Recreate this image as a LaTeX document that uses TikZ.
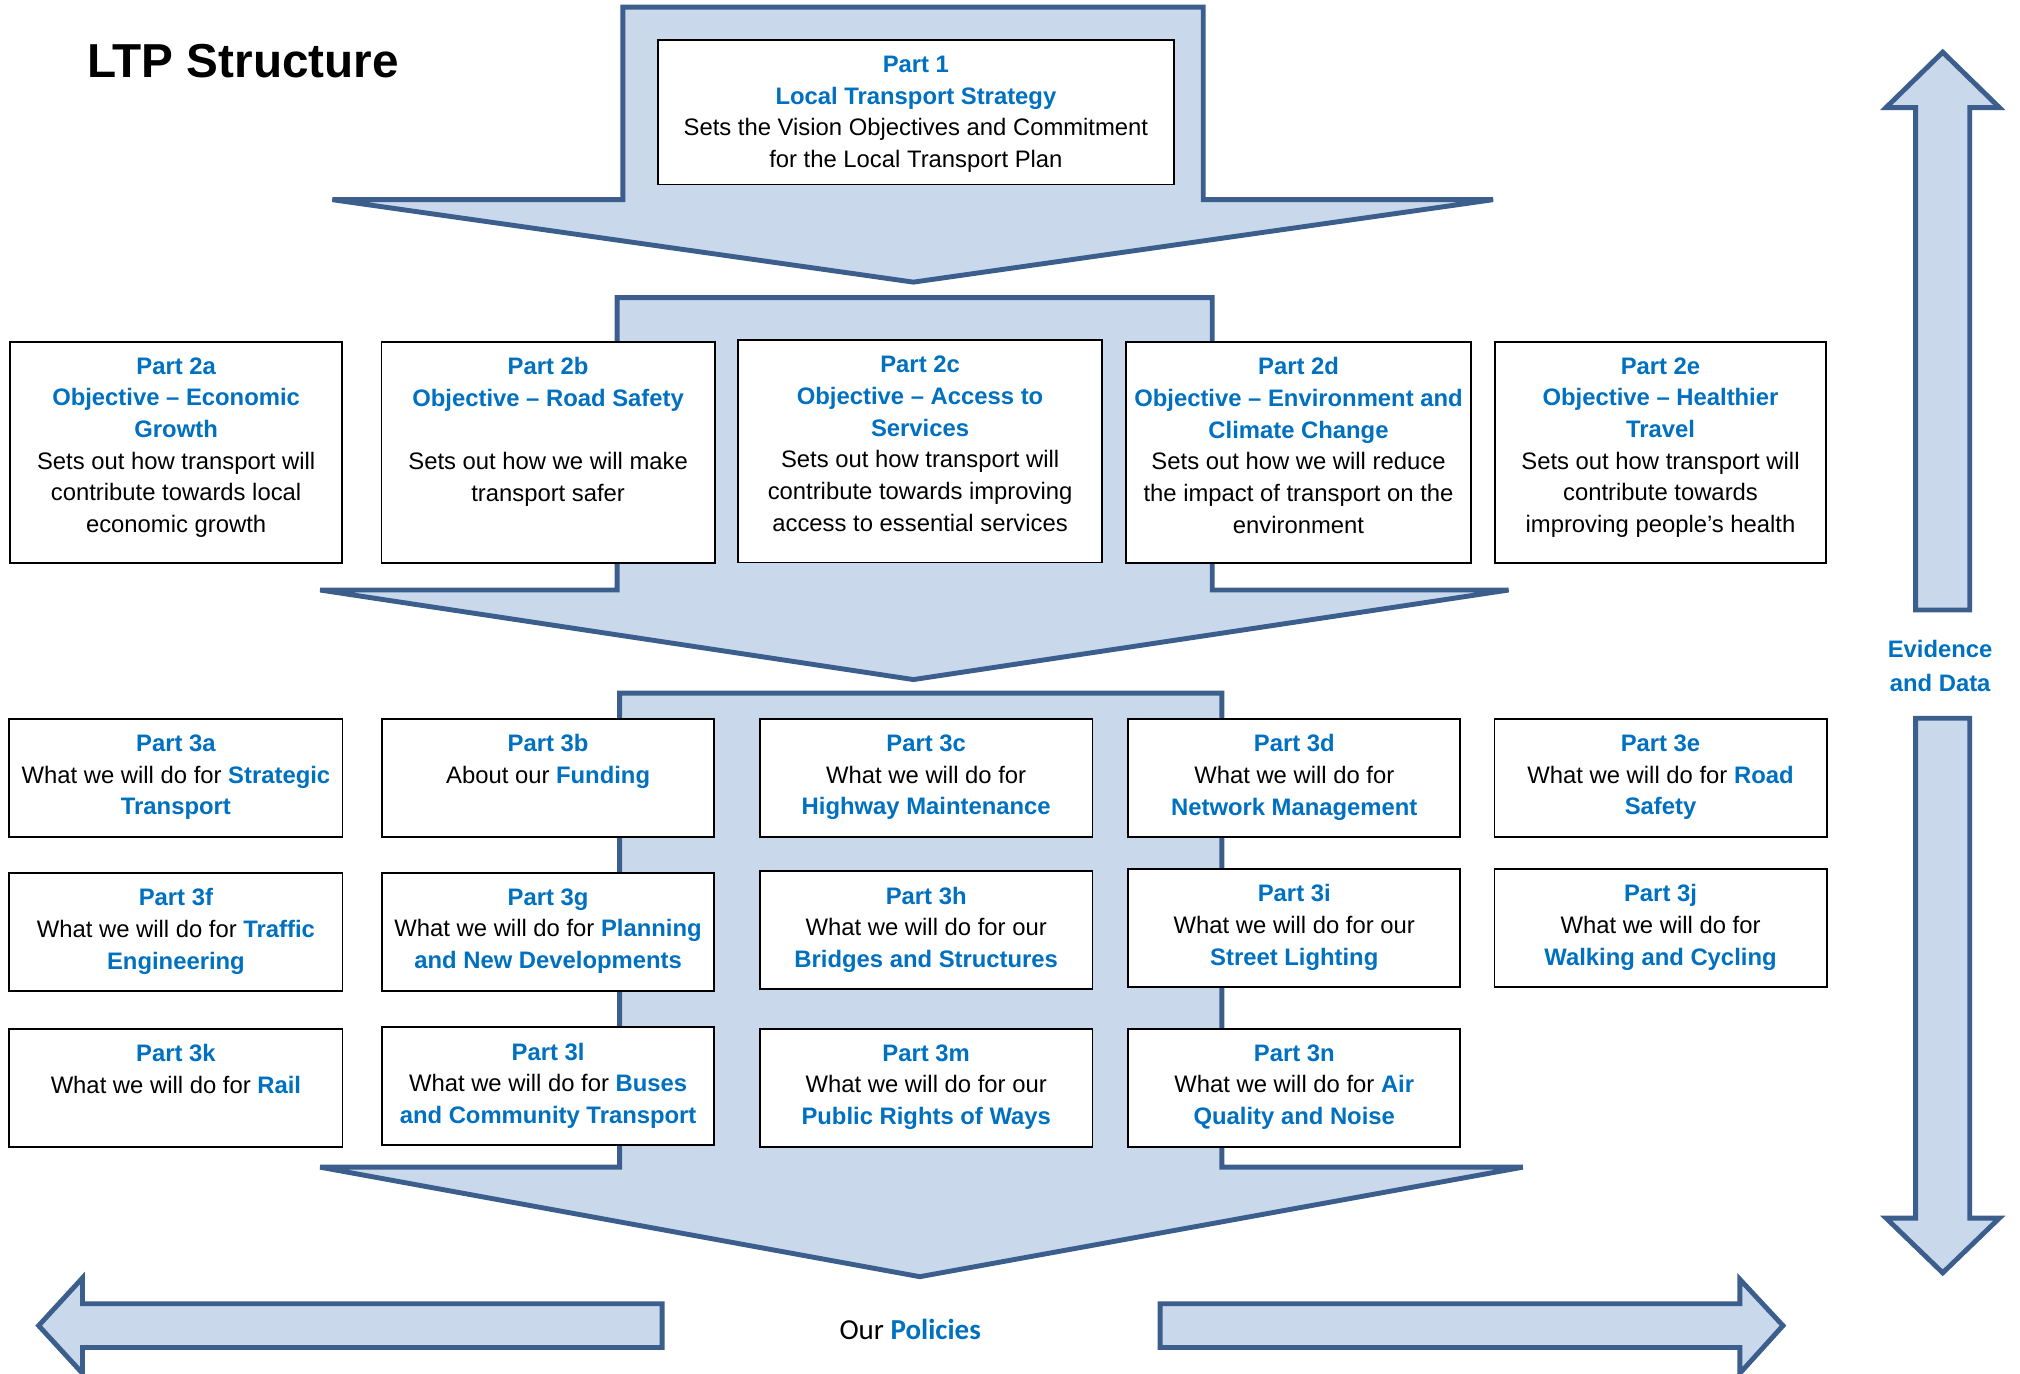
\documentclass[tikz,border=0pt]{standalone}
\usepackage{fontspec}
\setmainfont{Liberation Sans}
\newfontfamily\calfont{Carlito}
\definecolor{tblue}{HTML}{0070C0}
\definecolor{afill}{HTML}{C9D8EB}
\definecolor{aline}{HTML}{3B5E8C}
\newcommand{\blu}[1]{\textbf{\color{tblue}#1}}
\newcommand{\ltpbox}[6]{%
  \node[pbox, minimum width=#4pt-#2pt, minimum height=#5pt-#3pt] (b#1) at (#2,#3) {};
  \node[ptext] (t#1) at ([yshift=-12.8pt]b#1.north) {#6};
}
\tikzset{
  bigarrow/.style={fill=afill, draw=aline, line width=3.8pt, line join=miter},
  pbox/.style={draw=black, fill=white, line width=1.4pt, inner sep=0pt, anchor=north west},
  ptext/.style={anchor=north, inner sep=0pt, align=center, font=\fontsize{18.5}{24.6}\selectfont},
}
\begin{document}
\begin{tikzpicture}[x=1pt, y=-1pt]
\useasboundingbox (0,0) rectangle (1568,1066);

% big downward arrows
\path[bigarrow] (483.5,5.5) -- (934,5.5) -- (934,155) -- (1159,155) -- (709,219) -- (258,155) -- (483.5,155) -- cycle;
\path[bigarrow] (479,231) -- (941,231) -- (941,458) -- (1171,458) -- (709,527.5) -- (248.5,458) -- (479,458) -- cycle;
\path[bigarrow] (481,538) -- (948.5,538) -- (948.5,906) -- (1182,906) -- (714,991) -- (248.5,906) -- (481,906) -- cycle;

% evidence arrows
\path[bigarrow] (1508,40.5) -- (1552,83.5) -- (1529,83.5) -- (1529,473.5) -- (1487,473.5) -- (1487,83.5) -- (1464,83.5) -- cycle;
\path[bigarrow] (1487,557.5) -- (1529,557.5) -- (1529,945.5) -- (1552,945.5) -- (1508,988) -- (1464,945.5) -- (1487,945.5) -- cycle;

% policy arrows
\path[bigarrow] (30,1029) -- (64,992) -- (64,1012) -- (514,1012) -- (514,1046) -- (64,1046) -- (64,1066) -- cycle;
\path[bigarrow] (1384,1029) -- (1350.5,993) -- (1350.5,1012) -- (900.5,1012) -- (900.5,1046) -- (1350.5,1046) -- (1350.5,1066) -- cycle;

% title
\node[anchor=west, inner sep=0pt, font=\fontsize{37}{44}\selectfont\bfseries] (title) at (67.5,47.5) {LTP Structure};

% Part 1
\ltpbox{p1}{510}{30.5}{910.5}{142.5}{\blu{Part 1}\\ \blu{Local Transport Strategy}\\ Sets the Vision Objectives and Commitment\\ for the Local Transport Plan}

% Part 2
\ltpbox{2a}{7}{264.5}{265}{436.5}{\blu{Part 2a}\\ \blu{Objective – Economic}\\ \blu{Growth}\\ Sets out how transport will\\ contribute towards local\\ economic growth}
\ltpbox{2b}{295.5}{264.5}{554}{436.5}{\blu{Part 2b}\\ \blu{Objective – Road Safety}\\[24.6pt] Sets out how we will make\\ transport safer}
\ltpbox{2c}{572}{263.5}{855}{436}{\blu{Part 2c}\\ \blu{Objective – Access to}\\ \blu{Services}\\ Sets out how transport will\\ contribute towards improving\\ access to essential services}
\ltpbox{2d}{873.5}{264.5}{1141}{436.5}{\blu{Part 2d}\\ \blu{Objective – Environment and}\\ \blu{Climate Change}\\ Sets out how we will reduce\\ the impact of transport on the\\ environment}
\ltpbox{2e}{1159.5}{264.5}{1417}{436.5}{\blu{Part 2e}\\ \blu{Objective – Healthier}\\ \blu{Travel}\\ Sets out how transport will\\ contribute towards\\ improving people’s health}

% Part 3 row 1
\ltpbox{3a}{6.5}{557.3}{265.2}{648.9}{\blu{Part 3a}\\ What we will do for \blu{Strategic}\\ \blu{Transport}}
\ltpbox{3b}{295.7}{557.3}{553.8}{648.9}{\blu{Part 3b}\\ About our \blu{Funding}}
\ltpbox{3c}{589.2}{557.3}{847.3}{648.9}{\blu{Part 3c}\\ What we will do for\\ \blu{Highway Maintenance}}
\ltpbox{3d}{875}{557.3}{1132.9}{648.9}{\blu{Part 3d}\\ What we will do for\\ \blu{Network Management}}
\ltpbox{3e}{1159.3}{557.3}{1417.2}{648.9}{\blu{Part 3e}\\ What we will do for \blu{Road}\\ \blu{Safety}}

% Part 3 row 2
\ltpbox{3f}{6.5}{676.7}{265.2}{768.7}{\blu{Part 3f}\\ What we will do for \blu{Traffic}\\ \blu{Engineering}}
\ltpbox{3g}{295.7}{676.7}{553.8}{768.7}{\blu{Part 3g}\\ What we will do for \blu{Planning}\\ \blu{and New Developments}}
\ltpbox{3h}{589.2}{675.3}{847.3}{766.9}{\blu{Part 3h}\\ What we will do for our\\ \blu{Bridges and Structures}}
\ltpbox{3i}{875}{673.6}{1132.9}{765.2}{\blu{Part 3i}\\ What we will do for our\\ \blu{Street Lighting}}
\ltpbox{3j}{1159.3}{673.6}{1417.2}{765.2}{\blu{Part 3j}\\ What we will do for\\ \blu{Walking and Cycling}}

% Part 3 row 3
\ltpbox{3k}{6.5}{797.8}{265.2}{889.8}{\blu{Part 3k}\\ What we will do for \blu{Rail}}
\ltpbox{3l}{295.7}{796.4}{553.8}{888}{\blu{Part 3l}\\ What we will do for \blu{Buses}\\ \blu{and Community Transport}}
\ltpbox{3m}{589.2}{797.8}{847.3}{889.8}{\blu{Part 3m}\\ What we will do for our\\ \blu{Public Rights of Ways}}
\ltpbox{3n}{875}{797.8}{1132.9}{889.8}{\blu{Part 3n}\\ What we will do for \blu{Air}\\ \blu{Quality and Noise}}

% side and bottom labels
\node[inner sep=0pt, align=center, font=\fontsize{18.5}{26}\selectfont\bfseries, text=tblue] (evid) at (1506,517) {Evidence\\ and Data};
\node[inner sep=0pt, font=\calfont\fontsize{22.5}{27}\selectfont] (pol) at (706.5,1032) {Our {\bfseries\color{tblue}Policies}};
\end{tikzpicture}
\end{document}
